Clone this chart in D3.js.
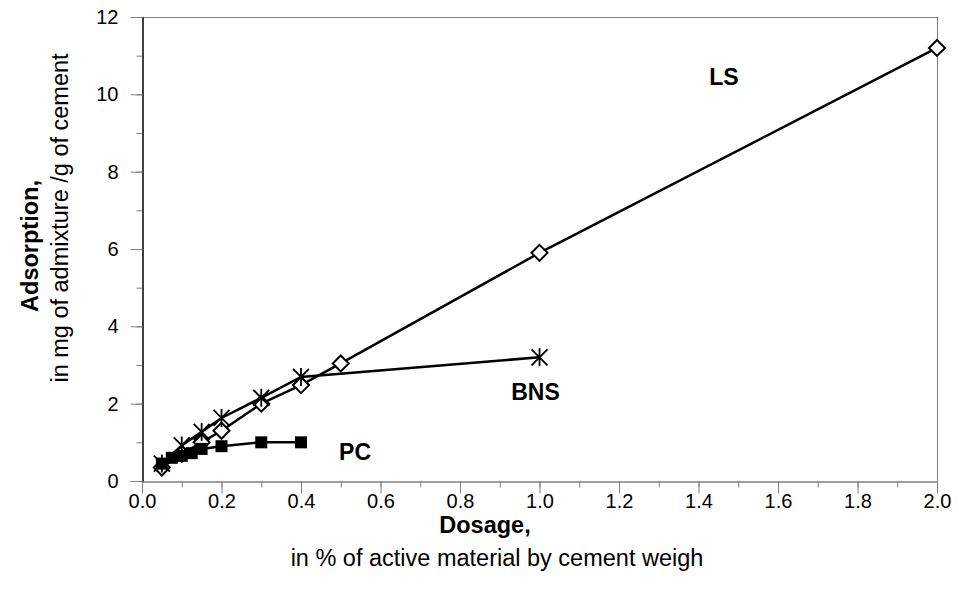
<!DOCTYPE html>
<html><head><meta charset="utf-8">
<script src="https://cdn.jsdelivr.net/npm/d3@7"></script>
<style>body{margin:0;background:#fff}svg{display:block}text{font-family:"Liberation Sans",Arial,sans-serif}</style>
</head><body>
<svg id="c" width="959" height="603"></svg>
<script>
const lsX = [0.05, 0.1, 0.15, 0.2, 0.3, 0.4, 0.5, 1.0, 2.0];
const lsY = [0.35, 0.7, 1.0, 1.3, 2.0, 2.48, 3.04, 5.9, 11.2];
const bnsX = [0.05, 0.1, 0.15, 0.2, 0.3, 0.4, 1.0];
const bnsY = [0.45, 0.92, 1.27, 1.63, 2.15, 2.69, 3.2];
const pcX = [0.05, 0.075, 0.1, 0.125, 0.15, 0.2, 0.3, 0.4];
const pcY = [0.45, 0.6, 0.65, 0.72, 0.83, 0.9, 1.0, 1.0];
const xTicks = [0.0,0.2,0.4,0.6,0.8,1.0,1.2,1.4,1.6,1.8,2.0];
const yTicks = [0,2,4,6,8,10,12];

const svg = d3.select("#c");
const x = d3.scaleLinear().domain([0,2]).range([142,937]);
const y = d3.scaleLinear().domain([0,12]).range([481,17]);

svg.append("line").attr("x1",142).attr("x2",x(2)).attr("y1",y(12)+0.5).attr("y2",y(12)+0.5).attr("stroke","#808080");
svg.append("line").attr("x1",x(2)+0.5).attr("x2",x(2)+0.5).attr("y1",y(12)).attr("y2",y(0)).attr("stroke","#808080");

const gx = svg.append("g").attr("transform",`translate(0,${y(0)+0.5})`);
gx.call(d3.axisBottom(x).tickValues(d3.range(0,21).map(d=>d/10)).tickSize(6).tickFormat(""));
const gx2 = svg.append("g").attr("transform",`translate(0,${y(0)+0.5})`);
gx2.call(d3.axisBottom(x).tickValues(xTicks).tickSize(12).tickSizeOuter(0).tickFormat(d3.format(".1f")));
[gx,gx2].forEach(g=>{g.select(".domain").attr("stroke","#808080");g.selectAll(".tick line").attr("stroke","#808080");});
gx2.selectAll(".tick text").attr("y",12).attr("font-size",20).attr("fill","#000").attr("font-family","Liberation Sans, Arial");

const gy = svg.append("g").attr("transform",`translate(${x(0)+0.5},0)`);
gy.call(d3.axisLeft(y).tickValues(d3.range(0,13)).tickSize(6).tickFormat(""));
const gy2 = svg.append("g").attr("transform",`translate(${x(0)+0.5},0)`);
gy2.call(d3.axisLeft(y).tickValues(yTicks).tickSize(12).tickSizeOuter(0).tickPadding(12).tickFormat(d3.format("d")));
[gy,gy2].forEach(g=>{g.select(".domain").attr("stroke","#000");g.selectAll(".tick line").attr("stroke","#808080");});
gy2.selectAll(".tick text").attr("font-size",20).attr("fill","#000").attr("font-family","Liberation Sans, Arial");
svg.append("line").attr("x1",130).attr("x2",142).attr("y1",y(0)+0.5).attr("y2",y(0)+0.5).attr("stroke","#808080");

const line = d3.line().x(d=>x(d[0])).y(d=>y(d[1]));
function series(xs, ys){ return xs.map((v,i)=>[v, ys[i]]); }
const ls = series(lsX, lsY), bns = series(bnsX, bnsY), pc = series(pcX, pcY);

[ls,bns,pc].forEach(s=>svg.append("path").attr("d",line(s)).attr("fill","none").attr("stroke","#000").attr("stroke-width",2.5));

svg.append("g").selectAll("path").data(ls).join("path")
  .attr("d",d=>{const cx=x(d[0]),cy=y(d[1]),r=8;return `M${cx},${cy-r}L${cx+r},${cy}L${cx},${cy+r}L${cx-r},${cy}Z`;})
  .attr("fill","#fff").attr("stroke","#000").attr("stroke-width",2);
svg.append("g").selectAll("path").data(bns).join("path")
  .attr("d",d=>{const cx=x(d[0]),cy=y(d[1]),r=9,a=8;return `M${cx},${cy-r}L${cx},${cy+r}M${cx-a},${cy-a}L${cx+a},${cy+a}M${cx-a},${cy+a}L${cx+a},${cy-a}`;})
  .attr("fill","none").attr("stroke","#000").attr("stroke-width",1.8);
svg.append("g").selectAll("rect").data(pc).join("rect")
  .attr("x",d=>x(d[0])-6).attr("y",d=>y(d[1])-6).attr("width",12).attr("height",12).attr("fill","#000");

const lab = [["LS",1.464,10.24],["BNS",0.99,2.09],["PC",0.536,0.54]];
svg.append("g").selectAll("text").data(lab).join("text")
  .attr("x",d=>x(d[1])).attr("y",d=>y(d[2])).attr("text-anchor","middle")
  .attr("font-weight","bold").attr("font-size",23).text(d=>d[0]);

svg.append("text").attr("x",485).attr("y",533).attr("text-anchor","middle").attr("font-weight","bold").attr("font-size",23.5).text("Dosage,");
svg.append("text").attr("x",497).attr("y",566).attr("text-anchor","middle").attr("font-size",23.5).text("in % of active material by cement weigh");
svg.append("text").attr("transform","translate(38,246) rotate(-90)").attr("text-anchor","middle").attr("font-weight","bold").attr("font-size",23.5).text("Adsorption,");
svg.append("text").attr("transform","translate(68,218) rotate(-90)").attr("text-anchor","middle").attr("font-size",23.5).text("in mg of admixture /g of cement");
</script>
</body></html>
